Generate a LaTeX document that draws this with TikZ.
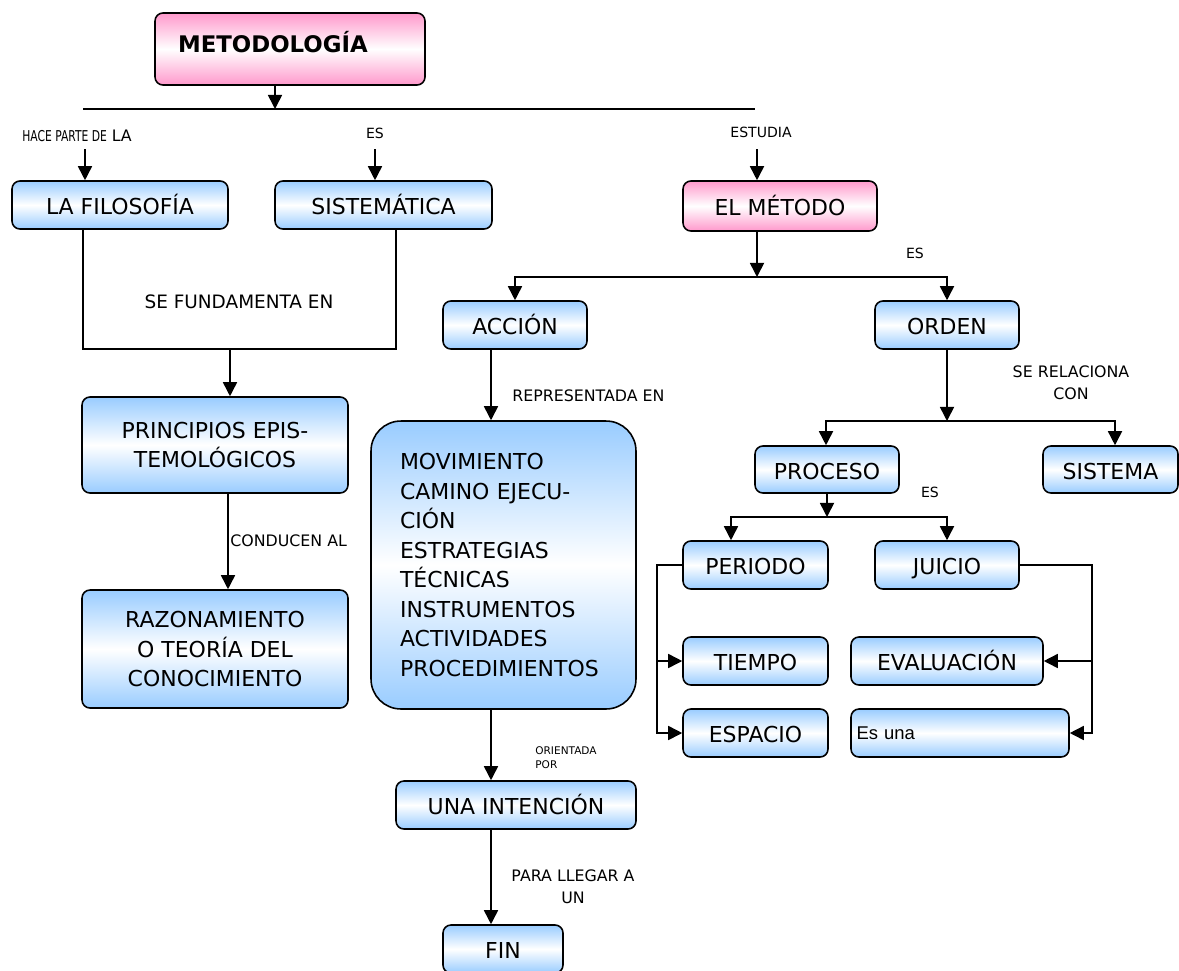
\documentclass[tikz,border=0pt]{standalone}
\usepackage{fontspec}
\setmainfont{DejaVu Sans}
\newfontfamily\arialfont{Liberation Sans}
\usetikzlibrary{arrows.meta,calc}

\definecolor{skyb}{RGB}{153,204,255}
\definecolor{pinkb}{RGB}{255,153,204}

\tikzset{
  bluebox/.style={draw, line width=0.9pt, rounded corners=4.5pt, inner sep=0pt,
    top color=skyb, bottom color=skyb, middle color=white, align=center,
    font=\fontsize{12.5}{17}\selectfont},
  solo/.style={bluebox, text height=2.45ex, text depth=0.45ex},
  pinkbox/.style={solo, top color=pinkb, bottom color=pinkb, middle color=white},
  link/.style={line width=0.9pt},
  arr/.style={line width=0.9pt, -{Triangle[length=8pt,width=8pt]}},
  lab/.style={inner sep=0pt, align=center, font=\fontsize{9}{12.5}\selectfont}
}

\begin{document}
\begin{tikzpicture}[x=0.02cm, y=-0.02cm]
\useasboundingbox (0,0) rectangle (1179,970);

% Drawing boxes, top row
\node[pinkbox, minimum width=5.4cm, minimum height=1.44cm, text width=4.48cm, align=left,
  text height=1.1ex, font=\fontsize{13}{15}\bfseries] (met) at (290,49) {METODOLOGÍA};
\node[solo, minimum width=4.32cm, minimum height=0.96cm] (fil) at (120,205) {LA FILOSOFÍA};
\node[solo, minimum width=4.34cm, minimum height=0.96cm] (sis) at (383.5,205) {SISTEMÁTICA};
\node[pinkbox, minimum width=3.88cm, minimum height=1.0cm] (metodo) at (780,206) {EL MÉTODO};

% Drawing boxes, left column
\node[bluebox, minimum width=5.32cm, minimum height=1.92cm] (pri) at (215,445) {PRINCIPIOS EPIS-\\TEMOLÓGICOS};
\node[bluebox, minimum width=5.32cm, minimum height=2.36cm] (raz) at (215,649) {RAZONAMIENTO\\O TEORÍA DEL\\CONOCIMIENTO};

% Drawing boxes, middle column
\node[solo, minimum width=2.88cm, minimum height=0.96cm] (acc) at (515,325) {ACCIÓN};
\node[bluebox, rounded corners=17pt, minimum width=5.3cm, minimum height=5.76cm,
  text width=4.14cm, align=left, font=\fontsize{12.5}{16.8}\selectfont] (mov) at (503.5,565)
  {MOVIMIENTO\\CAMINO EJECU-\\CIÓN\\ESTRATEGIAS\\TÉCNICAS\\INSTRUMENTOS\\ACTIVIDADES\\PROCEDIMIENTOS};
\node[solo, minimum width=4.8cm, minimum height=0.96cm] (uni) at (516,805) {UNA INTENCIÓN};
\node[solo, minimum width=2.4cm, minimum height=0.96cm] (fin) at (503,949) {FIN};

% Drawing boxes, right side
\node[solo, minimum width=2.88cm, minimum height=0.96cm] (ord) at (947,325) {ORDEN};
\node[solo, minimum width=2.88cm, minimum height=0.94cm] (pro) at (827,469.5) {PROCESO};
\node[solo, minimum width=2.7cm, minimum height=0.94cm] (sist) at (1110.5,469.5) {SISTEMA};
\node[solo, minimum width=2.9cm, minimum height=0.96cm] (per) at (755.5,565) {PERIODO};
\node[solo, minimum width=2.88cm, minimum height=0.96cm] (jui) at (947,565) {JUICIO};
\node[solo, minimum width=2.9cm, minimum height=0.96cm] (tie) at (755.5,661) {TIEMPO};
\node[solo, minimum width=2.9cm, minimum height=0.96cm] (esp) at (755.5,733) {ESPACIO};
\node[solo, minimum width=3.84cm, minimum height=0.96cm] (eva) at (947,661) {EVALUACIÓN};
\node[bluebox, minimum width=4.36cm, minimum height=0.96cm, text width=4.14cm, align=left,
  font=\arialfont\fontsize{10.5}{12}\selectfont] (esu) at (960,733) {Es una};

% Drawing connector METODOLOGIA
\coordinate (barl) at (83,109);
\coordinate (barr) at (755,109);
\coordinate (m1) at ($(met.south)+(-15,0)$);
\draw[link] (barl) -- (barr);
\draw[arr] (m1) -- (m1 |- barl);
\node[lab, anchor=base west, font=\fontsize{8.5}{9}\selectfont] (hace) at (22,141)
  {\scalebox{0.72}[1]{HACE PARTE DE} {\fontsize{9}{10}\selectfont LA}};
\node[lab, font=\fontsize{8}{10}\selectfont] (es1) at (375,133) {ES};
\node[lab, font=\fontsize{8}{10}\selectfont] (estu) at (761,132) {ESTUDIA};
\draw[arr] ($(fil.north)+(-35,-31)$) -- ($(fil.north)+(-35,0)$);
\draw[arr] ($(sis.north)+(-8.5,-31)$) -- ($(sis.north)+(-8.5,0)$);
\draw[arr] ($(metodo.north)+(-23,-31)$) -- ($(metodo.north)+(-23,0)$);

% Drawing connector SE FUNDAMENTA EN
\coordinate (f1) at ($(fil.south)+(-37,0)$);
\coordinate (s1) at ($(sis.south)+(12.5,0)$);
\coordinate (fun) at (230,349);
\draw[link] (f1) |- (fun) -| (s1);
\draw[arr] (fun) -- (fun |- pri.north);
\node[lab, font=\fontsize{10.5}{12}\selectfont] (sefu) at (239,302) {SE FUNDAMENTA EN};

% Drawing connector CONDUCEN AL
\coordinate (p1) at ($(pri.south)+(13,0)$);
\draw[arr] (p1) -- (p1 |- raz.north);
\node[lab, anchor=west] (cond) at (230,541) {CONDUCEN AL};

% Drawing connector EL METODO
\coordinate (e1) at ($(metodo.south)+(-23,0)$);
\coordinate (bar2) at (757,277);
\draw[arr] (e1) -- (bar2);
\draw[arr] (bar2) -| (acc.north);
\draw[arr] (bar2) -| (ord.north);
\node[lab, font=\fontsize{8}{10}\selectfont] (es2) at (915,253) {ES};

% Drawing connector REPRESENTADA EN
\coordinate (a1) at ($(acc.south)+(-24,0)$);
\draw[arr] (a1) -- (a1 |- mov.north);
\node[lab, anchor=west] (repr) at (512,396) {REPRESENTADA EN};

% Drawing connector ORDEN
\coordinate (bar3) at (947,421);
\draw[arr] (ord.south) -- (bar3);
\draw[arr] (bar3) -| ($(pro.north)+(-1,0)$);
\draw[arr] (bar3) -| ($(sist.north)+(4.5,0)$);
\node[lab] (serel) at (1071,383) {SE RELACIONA\\CON};

% Drawing connector PROCESO
\coordinate (bar4) at (827,517);
\coordinate (pe1) at ($(per.north)+(-24.5,0)$);
\draw[arr] (pro.south) -- (bar4);
\draw[arr] (bar4) -| (pe1);
\draw[arr] (bar4) -| (jui.north);
\node[lab, font=\fontsize{8}{10}\selectfont] (es3) at (930,492) {ES};

% Drawing connector PERIODO and JUICIO
\coordinate (pw) at ($(per.west)+(-25,0)$);
\draw[arr] (per.west) -- (pw) |- (tie.west);
\draw[arr] (pw) |- (esp.west);
\coordinate (je) at ($(jui.east)+(72,0)$);
\draw[arr] (jui.east) -- (je) |- (eva.east);
\draw[arr] (je) |- (esu.east);

% Drawing connector ORIENTADA POR
\coordinate (m2) at ($(mov.south)+(-12.5,0)$);
\draw[arr] (m2) -- (m2 |- uni.north);
\node[lab, anchor=north west, align=left, font=\fontsize{6}{8}\selectfont] (orie) at (535,746) {ORIENTADA\\POR};

% Drawing connector PARA LLEGAR A UN
\coordinate (u1) at ($(uni.south)+(-25,0)$);
\draw[arr] (u1) -- (u1 |- fin.north);
\node[lab] (para) at (573,887) {PARA LLEGAR A\\UN};

\end{tikzpicture}
\end{document}
